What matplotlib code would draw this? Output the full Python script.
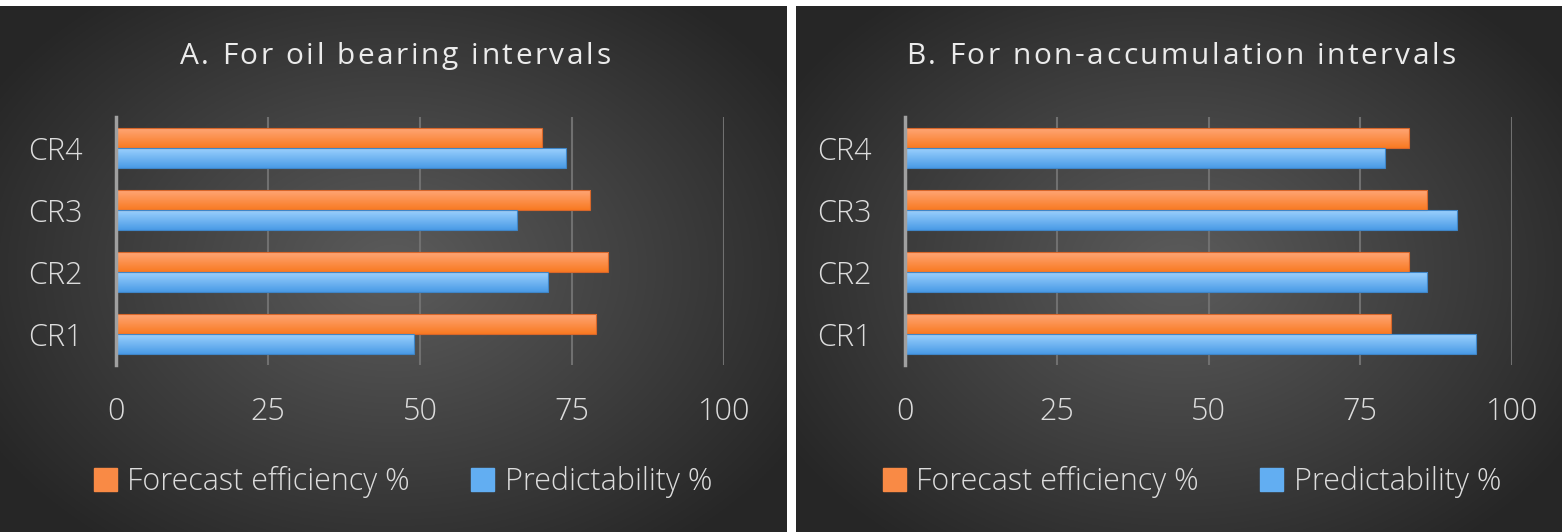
import numpy as np
import matplotlib
matplotlib.use("Agg")
import matplotlib.pyplot as plt
from matplotlib.patches import Patch

categories = ["CR1", "CR2", "CR3", "CR4"]
series_names = ["Forecast efficiency %", "Predictability %"]
titles = ["A. For oil bearing intervals", "B. For non-accumulation intervals"]

# panel A
oil_forecast = [79, 81, 78, 70]
oil_predict = [49, 71, 66, 74]
# panel B
nonacc_forecast = [80, 83, 86, 83]
nonacc_predict = [94, 86, 91, 79]

xticks = [0, 25, 50, 75, 100]

plt.rcParams["font.family"] = ["Open Sans", "DejaVu Sans"]

W, H = 1562, 532
fig = plt.figure(figsize=(W / 100, H / 100), dpi=100, facecolor="white")
renderer = fig.canvas.get_renderer()


def radial_bg(ax):
    yy, xx = np.mgrid[-1:1:300j, -1:1:600j]
    r = np.sqrt((xx / 1.0) ** 2 + (yy / 1.1) ** 2)
    r = np.clip(r / 1.2, 0, 1)
    light = np.array([0.36, 0.36, 0.36])
    dark = np.array([0.15, 0.15, 0.15])
    img = light[None, None, :] * (1 - r[..., None]) + dark[None, None, :] * r[..., None]
    ax.imshow(img, extent=(0, 1, 0, 1), aspect="auto", origin="lower")
    ax.set_xlim(0, 1)
    ax.set_ylim(0, 1)
    ax.axis("off")


def gradient_bars(ax, bars, top, bottom, edge):
    grad = np.linspace(0, 1, 64)[:, None, None]
    c_top = np.array(matplotlib.colors.to_rgb(top))
    c_bot = np.array(matplotlib.colors.to_rgb(bottom))
    img = c_bot * (1 - grad) + c_top * grad
    img = np.repeat(img, 2, axis=1)
    for p in bars:
        x0, y0 = p.get_x(), p.get_y()
        w, h = p.get_width(), p.get_height()
        im = ax.imshow(img, extent=(x0, x0 + w, y0, y0 + h), origin="lower",
                       aspect="auto", zorder=2)
        im.set_clip_path(p)
        p.set_facecolor("none")
        p.set_edgecolor(edge)
        p.set_linewidth(0.8)
        p.set_zorder(3)


def spaced_title(xc, yc, s, size, track):
    # letter-spaced title, placed char by char (pixels)
    widths = []
    for ch in s:
        t = fig.text(0, 0, ch, fontsize=size)
        widths.append(t.get_window_extent(renderer).width if ch != " " else size * 0.36)
        t.remove()
    total = sum(widths) + track * (len(s) - 1)
    x = xc - total / 2
    for ch, w in zip(s, widths):
        fig.text(x / W, yc / H, ch, fontsize=size, color="#ebebeb",
                 ha="left", va="center")
        x += w + track


def panel(bg_rect, plot_rect, title, title_x, forecast, predict, legend_x):
    bg = fig.add_axes(bg_rect, zorder=0)
    radial_bg(bg)

    ax = fig.add_axes(plot_rect, zorder=1)
    ax.patch.set_alpha(0)
    y = np.arange(len(categories))
    h = 0.33
    b1 = ax.barh(y + h / 2, forecast, height=h)
    b2 = ax.barh(y - h / 2, predict, height=h)
    gradient_bars(ax, b1, "#ffa87a", "#f97a22", "#d8672a")
    gradient_bars(ax, b2, "#9fd3ff", "#4a9be6", "#3f86c8")

    ax.set_xlim(0, 100)
    ax.set_ylim(-0.5, len(categories) - 0.5)
    ax.set_xticks(xticks)
    ax.set_yticks(y)
    ax.set_yticklabels(categories)
    for s in ["top", "right", "bottom"]:
        ax.spines[s].set_visible(False)
    ax.spines["left"].set_color("#a0a0a0")
    ax.spines["left"].set_linewidth(2.5)
    ax.spines["left"].set_zorder(4)
    ax.grid(axis="x", color="#707070", linewidth=1.5)
    ax.set_axisbelow(True)
    ax.tick_params(axis="x", length=0, pad=22, labelsize=22, labelcolor="#dcdcdc")
    ax.tick_params(axis="y", length=0, pad=24, labelsize=22, labelcolor="#dcdcdc")
    for t in ax.get_xticklabels() + ax.get_yticklabels():
        t.set_fontweight("light")

    spaced_title(title_x, H - 56, title, 21.5, 2.6)

    handles = [Patch(facecolor="#f98a45", edgecolor="#f98a45"),
               Patch(facecolor="#62aef2", edgecolor="#62aef2")]
    fig.legend(handles, series_names, loc="center", ncol=2, frameon=False,
               bbox_to_anchor=(legend_x / W, 1 - 482 / H),
               labelcolor="#dcdcdc", handlelength=0.75,
               handleheight=0.75, handletextpad=0.35, columnspacing=2.0,
               prop={"weight": "light", "size": 22})


panel([0, 0, 787 / W, 526 / H], [116 / W, (H - 365) / H, 608 / W, 248 / H],
      titles[0], 395, oil_forecast, oil_predict, 403)
panel([796 / W, 0, 766 / W, 526 / H], [905 / W, (H - 365) / H, 607 / W, 248 / H],
      titles[1], 1181, nonacc_forecast, nonacc_predict, 1192)

fig.savefig("out.png", dpi=100, facecolor="white")
